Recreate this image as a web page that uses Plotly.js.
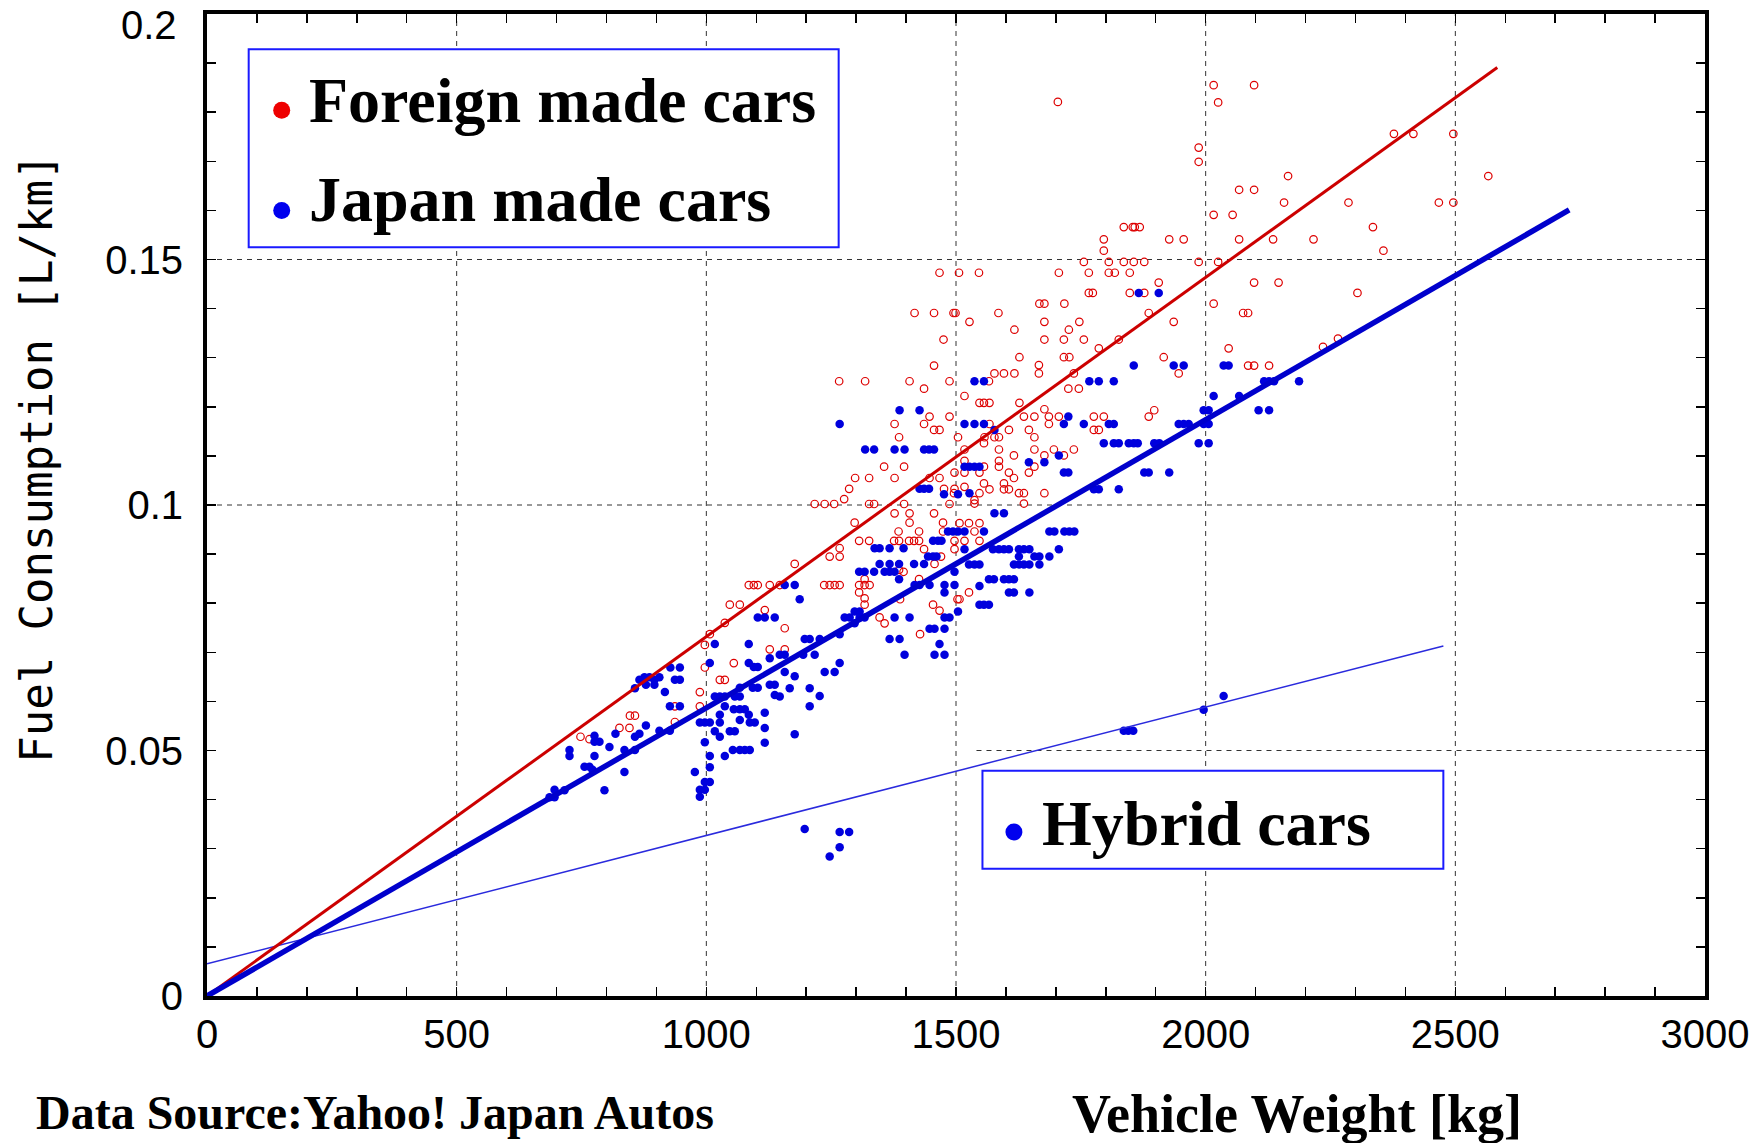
<!DOCTYPE html>
<html>
<head>
<meta charset="utf-8">
<script src="https://cdn.plot.ly/plotly-3.0.1.min.js"></script>
<style>html,body{margin:0;padding:0;background:#fff;}#chart{width:1752px;height:1143px;}</style>
</head>
<body>
<div id="chart"></div>
<script>
// ---------- data ----------
const foreignWeight = [
1704,1467,1506,1546,1706,1667,1677,1417,1456,1495,1499,1585,1527,1677,1617,
2016,2097,2025,1986,1986,2165,2067,2097,2157,2016,2054,1836,1854,1858,1868,1796,1927,1956,2067,2135,1796,1756,1806,1836,1856,1877,1986,2025,1766,1806,1818,1848,1906,2097,2146,1766,1774,1848,1877,1717,2016,1886,2075,2085,1747,1936,1726,
2377,2416,2496,2566,2286,2467,2496,2335,2216,2356,2304,2235,2265,
1475,1456,1266,1318,1407,1487,1436,1447,1487,1377,1436,1456,1467,1386,1504,1356,1396,1298,1326,1377,1447,1467,1497,1286,1476,1497,1276,1217,1237,1256,1326,1336,1396,1487,1377,1407,1456,1496,
1677,1716,1756,1826,1627,1716,1727,1786,1666,1666,1577,1596,1617,1736,1566,1725,1746,1517,1547,1556,1567,1627,1677,1636,1657,1686,1686,1706,1776,1796,1567,1606,1646,1776,1786,1557,1577,1586,1657,1556,1517,1586,1657,1696,1736,1616,1677,1716,1586,1517,1657,1556,1586,1517,1547,1606,1646,1616,1556,1596,1517,1567,1596,1606,1626,1636,1677,1537,1537,1636,1547,
1916,2046,1946,2085,2097,2127,1886,1897,
1085,1095,1103,1047,1067,1037,1007,997,997,1055,1027,1037,987,987,937,847,857,826,846,937,748,766,
1297,1407,1474,1385,1306,1326,1376,1386,1406,1416,1426,1426,1474,1497,1267,1267,1247,1436,1497,1177,1470,1457,1386,1395,1127,1147,1236,1247,1257,1267,1306,1317,1327,1306,1317,1317,1317,1426,1388,1503,1117,1454,1467,1347,1357,1157,1428,1127,1157,
1507,1526,1547,1537,1517,1547,1526,1507
];
const foreignFuel = [
0.1821,0.1473,0.1473,0.1473,0.1473,0.1410,0.1410,0.1391,0.1391,0.1391,0.1391,0.1391,0.1373,0.1373,0.1357,
0.1855,0.1855,0.1820,0.1728,0.1699,0.1670,0.1642,0.1642,0.1616,0.1591,0.1591,0.1566,0.1566,0.1566,0.1566,0.1541,0.1541,0.1541,0.1541,0.1541,0.1518,0.1495,0.1495,0.1495,0.1495,0.1495,0.1495,0.1495,0.1473,0.1473,0.1473,0.1473,0.1453,0.1453,0.1453,0.1432,0.1432,0.1432,0.1432,0.1410,0.1410,0.1391,0.1391,0.1391,0.1373,0.1373,0.1357,
0.1756,0.1756,0.1756,0.1670,0.1616,0.1616,0.1616,0.1566,0.1541,0.1518,0.1432,0.1322,0.1339,
0.1337,0.1284,0.1252,0.1252,0.1252,0.1252,0.1237,0.1180,0.1180,0.1165,0.1165,0.1153,0.1153,0.1138,0.1138,0.1078,0.1078,0.1055,0.1055,0.1055,0.1055,0.1055,0.1066,0.1033,0.1033,0.1033,0.1012,0.1002,0.1002,0.1002,0.1002,0.1002,0.1002,0.1002,0.0983,0.0983,0.0983,0.1024,
0.1337,0.1337,0.1337,0.1337,0.1301,0.1301,0.1301,0.1319,0.1285,0.1268,0.1268,0.1268,0.1268,0.1268,0.1252,0.1237,0.1237,0.1222,0.1208,0.1208,0.1208,0.1208,0.1195,0.1180,0.1180,0.1180,0.1165,0.1180,0.1180,0.1180,0.1165,0.1153,0.1153,0.1153,0.1153,0.1138,0.1138,0.1138,0.1138,0.1126,0.1113,0.1113,0.1113,0.1113,0.1113,0.1101,0.1101,0.1101,0.1090,0.1090,0.1078,0.1078,0.1078,0.1066,0.1066,0.1066,0.1066,0.1055,0.1044,0.1044,0.1037,0.1032,0.1032,0.1032,0.1024,0.1024,0.1024,0.1010,0.1003,0.1003,0.1024,
0.1301,0.1319,0.1268,0.1284,0.1284,0.1284,0.1180,0.1193,
0.0837,0.0837,0.0837,0.0797,0.0797,0.0760,0.0737,0.0715,0.0669,0.0678,0.0644,0.0644,0.0619,0.0590,0.0590,0.0571,0.0571,0.0546,0.0546,0.0558,0.0528,0.0523,
0.0964,0.0964,0.0964,0.0946,0.0927,0.0927,0.0927,0.0927,0.0927,0.0927,0.0927,0.0946,0.0946,0.0927,0.0912,0.0895,0.0895,0.0910,0.0910,0.0880,0.0895,0.0880,0.0868,0.0864,0.0837,0.0837,0.0837,0.0837,0.0837,0.0837,0.0837,0.0837,0.0837,0.0822,0.0810,0.0797,0.0849,0.0849,0.0808,0.0808,0.0786,0.0797,0.0785,0.0771,0.0759,0.0749,0.0737,0.0706,0.0706,
0.0963,0.0963,0.0963,0.0946,0.0927,0.0927,0.0822,0.0808
];

const japanWeight = [
1866,1906,
1387,1427,1267,1318,1336,1377,1397,1436,1446,1456,1427,1436,1446,1476,1504,
1537,1556,1767,1786,1816,1856,1517,1537,1556,1577,1716,1725,1756,1806,1816,1796,1816,1826,1846,1856,1864,1706,1646,1677,1517,1527,1537,1547,1716,1725,1776,1786,1826,1527,1577,1596,
1936,1956,2036,2046,2117,2127,2137,2187,2016,2067,1996,2006,2106,2127,1946,1956,1966,1996,2006,1897,1907,1986,2006,1877,1886,1927,
1103,1017,1085,1007,1085,1095,1103,928,947,866,876,886,896,906,857,879,896,937,947,917,927,947,1017,1027,1037,1057,1067,1067,1093,1103,1037,1055,1067,1077,1027,1027,1085,1067,1087,1097,987,997,1007,879,1017,1027,1047,1057,906,927,818,857,866,776,776,786,997,806,836,857,726,726,776,1007,1037,1053,1067,1077,1087,756,766,772,836,1007,977,997,1007,987,997,987,796,696,716,696,686,
1484,1494,1504,1454,1464,1471,1337,1347,1367,1395,1444,1454,1461,1347,1367,1386,1416,1436,1306,1317,1336,1357,1367,1377,1386,1497,1157,1177,1417,1427,1447,1477,1477,1497,1187,1117,1137,1277,1287,1297,1307,1307,1317,1297,1377,1407,1477,1487,1504,1447,1457,1477,1197,1207,1227,1267,1367,1387,1467,1397,1457,1477,1147,1157,1194,1217,1127,1267,1237,1257,1157,1177,1127,1137,1167,1207,1137,1147,1227,1207,1117,
1517,1556,1687,1697,1717,1727,1737,1517,1574,1586,1596,1606,1626,1636,1647,1706,1626,1657,1667,1687,1526,1537,1547,1616,1626,1636,1647,1667,1547,1566,1576,1596,1606,1616,1606,1616,1647,1547,1556,1566,
1117,1117,1177
];
const japanFuel = [
0.1432,0.1432,
0.1193,0.1193,0.1165,0.1113,0.1113,0.1113,0.1113,0.1113,0.1113,0.1113,0.1033,0.1033,0.1033,0.1022,0.1022,
0.1252,0.1252,0.1252,0.1252,0.1252,0.1284,0.1165,0.1165,0.1165,0.1153,0.1165,0.1180,0.1165,0.1165,0.1165,0.1126,0.1126,0.1126,0.1126,0.1126,0.1126,0.1101,0.1087,0.1087,0.1078,0.1078,0.1078,0.1078,0.1066,0.1066,0.1032,0.1032,0.1032,0.1024,0.0983,0.0983,
0.1284,0.1284,0.1284,0.1284,0.1252,0.1252,0.1252,0.1252,0.1222,0.1222,0.1193,0.1193,0.1193,0.1193,0.1165,0.1165,0.1165,0.1165,0.1165,0.1126,0.1126,0.1126,0.1126,0.1066,0.1066,0.1066,
0.0771,0.0717,0.0717,0.0678,0.0678,0.0670,0.0670,0.0669,0.0669,0.0644,0.0649,0.0649,0.0644,0.0649,0.0627,0.0634,0.0634,0.0644,0.0644,0.0619,0.0590,0.0590,0.0610,0.0610,0.0610,0.0610,0.0610,0.0628,0.0628,0.0628,0.0590,0.0584,0.0584,0.0584,0.0573,0.0557,0.0573,0.0562,0.0557,0.0557,0.0557,0.0557,0.0557,0.0551,0.0539,0.0528,0.0539,0.0539,0.0540,0.0540,0.0534,0.0528,0.0534,0.0530,0.0518,0.0518,0.0517,0.0507,0.0501,0.0501,0.0501,0.0489,0.0489,0.0489,0.0489,0.0501,0.0501,0.0501,0.0501,0.0467,0.0467,0.0461,0.0456,0.0466,0.0456,0.0436,0.0436,0.0420,0.0420,0.0406,0.0419,0.0420,0.0419,0.0405,0.0405,
0.0946,0.0946,0.0946,0.0927,0.0927,0.0927,0.0912,0.0912,0.0912,0.0912,0.0895,0.0895,0.0895,0.0880,0.0880,0.0880,0.0880,0.0880,0.0864,0.0864,0.0864,0.0864,0.0864,0.0864,0.0849,0.0864,0.0837,0.0837,0.0837,0.0837,0.0837,0.0837,0.0822,0.0837,0.0808,0.0771,0.0771,0.0771,0.0771,0.0783,0.0783,0.0771,0.0771,0.0759,0.0771,0.0771,0.0771,0.0771,0.0783,0.0748,0.0748,0.0748,0.0727,0.0727,0.0727,0.0737,0.0727,0.0727,0.0717,0.0695,0.0695,0.0695,0.0695,0.0695,0.0695,0.0695,0.0688,0.0678,0.0660,0.0660,0.0660,0.0651,0.0634,0.0634,0.0627,0.0627,0.0613,0.0610,0.0611,0.0590,0.0577,
0.0946,0.0946,0.0946,0.0946,0.0946,0.0946,0.0946,0.0910,0.0910,0.0910,0.0910,0.0910,0.0910,0.0910,0.0910,0.0910,0.0895,0.0895,0.0895,0.0895,0.0879,0.0879,0.0879,0.0879,0.0879,0.0879,0.0879,0.0879,0.0835,0.0849,0.0849,0.0849,0.0849,0.0849,0.0822,0.0822,0.0822,0.0797,0.0797,0.0797,
0.0546,0.0516,0.0533
];

const hybridWeight = [1197,1267,1286,1267,1247,1836,1845,1855,1996,2036];
const hybridFuel   = [0.0340,0.0334,0.0334,0.0303,0.0284,0.0540,0.0540,0.0540,0.0583,0.0611];

// fitted lines (end points)
const foreignFitWeight = [0, 2584];
const foreignFitFuel   = [0, 0.1891];
const japanFitWeight   = [0, 2728];
const japanFitFuel     = [0, 0.1601];
const hybridFitWeight  = [0, 2476];
const hybridFitFuel    = [0.00655, 0.0713];

// axes
const xTickVals = [0, 500, 1000, 1500, 2000, 2500, 3000];
const xTickText = ['0', '500', '1000', '1500', '2000', '2500', '3000'];
const yTickVals = [0, 0.05, 0.1, 0.15, 0.2];
const yTickText = ['0', '0.05', '0.1', '0.15', '0.2'];
const xGrid = [500, 1000, 1500, 2000, 2500];
const yGrid = [0.05, 0.1, 0.15];

const legendLabels = ['Foreign made cars', 'Japan made cars', 'Hybrid cars'];
const xTitle = 'Vehicle Weight [kg]';
const yTitle = 'Fuel Consumption [L/km]';
const sourceText = 'Data Source:Yahoo! Japan Autos';

// ---------- styles ----------
const RED = '#dd0000', RED_LINE = '#cc0000', BLUE = '#0000dd', BLUE_LINE = '#0000cc', BOX = '#1a1aff';
const SERIF = 'Liberation Serif, Times New Roman, serif';
const TICKFONT = {family: 'Liberation Sans, Arial, sans-serif', size: 40, color: 'black'};

const traces = [
  {x: foreignWeight, y: foreignFuel, type: 'scatter', mode: 'markers',
   marker: {symbol: 'circle-open', size: 7.5, color: RED, line: {width: 1.2, color: RED}}, hoverinfo: 'skip'},
  {x: japanWeight, y: japanFuel, type: 'scatter', mode: 'markers',
   marker: {symbol: 'circle', size: 8.5, color: BLUE}, hoverinfo: 'skip'},
  {x: hybridWeight, y: hybridFuel, type: 'scatter', mode: 'markers',
   marker: {symbol: 'circle', size: 8.5, color: BLUE}, hoverinfo: 'skip'},
  {x: hybridFitWeight, y: hybridFitFuel, type: 'scatter', mode: 'lines',
   line: {color: '#2a2add', width: 1.5}, hoverinfo: 'skip'},
  {x: foreignFitWeight, y: foreignFitFuel, type: 'scatter', mode: 'lines',
   line: {color: RED_LINE, width: 3}, hoverinfo: 'skip'},
  {x: japanFitWeight, y: japanFitFuel, type: 'scatter', mode: 'lines',
   line: {color: BLUE_LINE, width: 5.5}, hoverinfo: 'skip'}
];

const shapes = [];
const gridStyle = {color: '#333', width: 1, dash: '5px,5px'};
xGrid.forEach(v => shapes.push({type: 'line', xref: 'x', yref: 'y', x0: v, x1: v, y0: 0, y1: 0.2, line: gridStyle, layer: 'below'}));
yGrid.forEach(v => shapes.push({type: 'line', xref: 'x', yref: 'y', x0: v === 0.05 ? 1541 : 0, x1: 3000, y0: v, y1: v, line: gridStyle, layer: 'below'}));
// legend boxes
shapes.push({type: 'rect', xref: 'x', yref: 'y', x0: 83.5, x1: 1265, y0: 0.1525, y1: 0.1928,
             line: {color: BOX, width: 2}, fillcolor: 'white', layer: 'below'});
shapes.push({type: 'rect', xref: 'x', yref: 'y', x0: 1553, x1: 2476, y0: 0.0259, y1: 0.0459,
             line: {color: BOX, width: 2}, fillcolor: 'white', layer: 'below'});
// legend dots
function dot(xc, yc, color) {
  return {type: 'circle', xref: 'x', yref: 'y', xsizemode: 'pixel', ysizemode: 'pixel',
          xanchor: xc, yanchor: yc, x0: -8.5, x1: 8.5, y0: -8.5, y1: 8.5,
          fillcolor: color, line: {width: 0}, layer: 'above'};
}
shapes.push(dot(149.6, 0.1804, '#ee0000'));
shapes.push(dot(149.6, 0.1600, '#0000ee'));
shapes.push(dot(1616, 0.0334, '#0000ee'));

// the top y tick label sits a little lower than its tick in the reference: drawn as an annotation
const lastY = yTickVals.length - 1;
const yAxisText = yTickText.map((t, i) => (i === lastY ? '' : t));

const legendFont = {family: SERIF, size: 64, color: 'black', weight: 'bold'};
const annotations = [
  {text: legendLabels[0], xref: 'paper', yref: 'paper', x: 0.0670, y: 0.9124, xanchor: 'left', yanchor: 'middle', showarrow: false, font: legendFont},
  {text: legendLabels[1], xref: 'paper', yref: 'paper', x: 0.0670, y: 0.8106, xanchor: 'left', yanchor: 'middle', showarrow: false, font: legendFont},
  {text: legendLabels[2], xref: 'paper', yref: 'paper', x: 0.5560, y: 0.1752, xanchor: 'left', yanchor: 'middle', showarrow: false, font: legendFont},
  {text: xTitle, xref: 'paper', yref: 'paper', x: 0.7276, y: -0.1202, xanchor: 'center', yanchor: 'middle', showarrow: false,
   font: {family: SERIF, size: 54, color: 'black', weight: 'bold'}},
  {text: sourceText, xref: 'paper', yref: 'paper', x: -0.1158, y: -0.1185, xanchor: 'left', yanchor: 'middle', showarrow: false,
   font: {family: SERIF, size: 48, color: 'black', weight: 'bold'}},
  {text: yTitle, xref: 'paper', yref: 'paper', x: -0.1135, y: 0.548, xanchor: 'center', yanchor: 'middle', showarrow: false,
   textangle: -90, font: {family: 'DejaVu Sans Mono, monospace', size: 44, color: 'black'}},
  {text: yTickText[lastY], xref: 'paper', yref: 'paper', x: -0.0187, y: 0.989, xanchor: 'right', yanchor: 'middle', showarrow: false,
   font: TICKFONT}
];

const axisCommon = {
  showgrid: false, zeroline: false, showline: true, linewidth: 4, linecolor: 'black', mirror: 'allticks',
  ticks: 'inside', ticklen: 9, tickwidth: 1.5, tickcolor: 'black',
  tickfont: TICKFONT,
  ticklabeloverflow: 'allow',
  fixedrange: true
};

const layout = {
  width: 1752, height: 1143,
  margin: {l: 207, r: 47, t: 14, b: 147, pad: 0},
  paper_bgcolor: 'white', plot_bgcolor: 'white',
  showlegend: false,
  xaxis: Object.assign({}, axisCommon, {range: [0, 3000], tickmode: 'array', tickvals: xTickVals, ticktext: xTickText,
    minor: {tick0: 0, dtick: 100, ticks: 'inside', ticklen: 9, tickwidth: 1.5, tickcolor: 'black', showgrid: false}}),
  yaxis: Object.assign({}, axisCommon, {range: [0, 0.2], tickmode: 'array', tickvals: yTickVals, ticktext: yAxisText,
    ticklabelstandoff: 12,
    minor: {tick0: 0, dtick: 0.01, ticks: 'inside', ticklen: 9, tickwidth: 1.5, tickcolor: 'black', showgrid: false}}),
  shapes: shapes,
  annotations: annotations
};

Plotly.newPlot('chart', traces, layout, {displayModeBar: false, staticPlot: true});
</script>
</body>
</html>
